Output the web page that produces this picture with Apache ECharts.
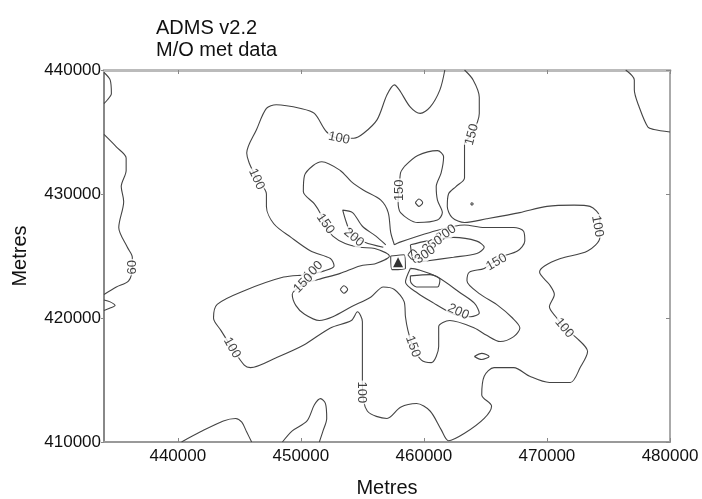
<!DOCTYPE html>
<html>
<head>
<meta charset="utf-8">
<script src="https://cdn.jsdelivr.net/npm/echarts@6/dist/echarts.min.js"></script>
<style>html,body{margin:0;padding:0;background:#fff}#c{width:702px;height:499px}</style>
</head>
<body>
<div id="c"></div>
<script>
// Axis ticks (metres)
const xTicks = [440000, 450000, 460000, 470000, 480000];
const yTicks = [410000, 420000, 430000, 440000];

// Contour polylines, [easting, northing] in metres
const c100Main = [[461700,440000],[461300,438400],[460500,437000],[459700,436500],[458900,437000],[458000,438400],[457600,438800],[457000,438000],[456200,436000],[455100,434900],[454300,434500],[453100,434500],[452100,435000],[451100,436500],[450000,436900],[448000,437200],[447200,436900],[446400,435200],[445600,433300],[445800,432500],[446400,431300],[447200,430000],[447200,429000],[447800,427600],[449200,426500],[450800,425400],[452400,424800],[452700,424200],[451900,423800],[450500,423500],[448600,423300],[445400,422200],[443200,421100],[442900,420000],[443500,419000],[444400,417600],[445400,416200],[445900,416000],[448000,416800],[450200,417800],[452400,419200],[454100,419800],[454600,420500],[455000,419700],[455000,418200],[455000,414600],[455400,412500],[457000,411900],[458100,412800],[459400,413100],[460500,412500],[461400,411000],[462000,410100],[463300,410700],[464900,411900],[465500,412900],[464700,413800],[464900,415300],[465700,416000],[467300,416000],[468600,415300],[470200,414800],[471900,414800],[472700,416000],[473300,417300],[472400,418400],[471400,419200],[470800,420000],[470200,420900],[470600,421900],[470200,422700],[469400,423700],[469800,424200],[471100,424800],[473300,425400],[474300,426500],[474300,428100],[473500,429000],[472200,429100],[470000,429000],[467800,428500],[465100,428000],[463300,427700],[462300,428100],[461900,429000],[462000,430000],[462600,430600],[463300,431300],[463300,433000],[463300,434100],[463900,434800],[464500,436500],[464500,437800],[464000,439200],[463300,440000]];
const c150Main = [[457600,425900],[457300,426900],[457100,428500],[456500,429500],[455100,430300],[454100,431000],[453200,431900],[451700,432600],[451000,432300],[450300,431500],[450200,430200],[451100,429200],[451600,428400],[452000,427400],[452600,426600],[453600,426000],[454800,425700],[456000,425600],[457200,425000],[456100,424400],[454800,424200],[453200,423600],[451400,423100],[450200,422700],[449300,421900],[449600,421000],[450300,420300],[451500,419800],[452600,420100],[454100,420900],[455700,421700],[456700,422500],[457600,422300],[458400,421300],[458500,420100],[458700,419000],[459100,417700],[459800,416600],[460600,416400],[461200,417700],[461200,419300],[462100,419800],[464100,419200],[465100,418600],[466200,418100],[467300,418500],[467800,419200],[467200,420000],[465900,421100],[464600,421900],[463500,423000],[463700,423700],[464900,424000],[466200,424900],[467600,425400],[468200,426200],[468100,427000],[467300,427300],[464900,427300],[463300,427500],[460500,426900],[458000,426100],[457600,425900]];
const c150Finger = [[458400,432200],[459500,433100],[461100,433500],[461600,433000],[461400,431700],[461000,430600],[461100,429500],[461500,428500],[461100,427900],[459500,427700],[458100,428500],[457900,429500],[458000,430300],[458100,431700],[458400,432200]];
const c200NW = [[456900,425900],[456100,426600],[455000,427400],[454200,428500],[453400,428700],[453700,427700],[454100,426800],[455200,426100],[456700,425700]];
const c200SE = [[458900,424000],[459500,423900],[461100,423300],[463000,422000],[464100,421200],[464500,420400],[463800,420100],[462800,420200],[462200,420400],[460800,421200],[459500,422000],[458500,422900],[458900,424000]];
const c200E = [[458900,425900],[460200,426200],[462400,426500],[464300,426200],[464900,425700],[464300,425200],[462400,424900],[460200,424600],[459300,424500],[458900,425900]];
const c250Box = [[457300,425000],[458400,425100],[458500,424000],[457400,423900],[457300,425000]];
const c250Ring = [[458700,425100],[459100,425500],[459500,425100],[459100,424700],[458700,425100]];
const c250S = [[458900,423400],[460500,423500],[461300,423100],[461100,422500],[459400,422500],[458900,423000],[458900,423400]];
const cRingFinger = [[459300,429300],[459600,429600],[459900,429300],[459600,429000],[459300,429300]];
const cRingSW = [[453200,422300],[453500,422600],[453800,422300],[453500,422000],[453200,422300]];
const cEllipseSE = [[464100,416900],[464700,417150],[465300,416900],[464700,416650],[464100,416900]];
const cDotNE = [[463800,429200],[463900,429300],[464000,429200],[463900,429100],[463800,429200]];
const cEdgeTopLeft = [[434000,439800],[434500,439200],[434600,438100],[434200,437500],[434000,437300]];
const cEdgeLeft = [[434000,434800],[435000,433800],[435800,432900],[435800,431900],[435400,430600],[435600,429400],[435200,427300],[435900,425700],[436300,424900],[436300,424100],[436000,423000],[435000,422500],[434000,421900]];
const cEdgeLeftBump = [[434000,421450],[434500,421300],[434900,421000],[434500,420800],[434000,420600]];
const cEdgeTopRight = [[476400,440000],[477100,439200],[477100,438400],[477500,437000],[478200,435400],[478700,435200],[480000,435000]];
const cEdgeBottom1 = [[440300,410000],[441800,410800],[443700,411700],[444700,411900],[445200,411600],[445600,410800],[446000,410000]];
const cEdgeBottom2 = [[448500,410000],[449300,410900],[450500,411700],[451100,413000],[451600,413500],[452000,413100],[452100,411900],[451800,410900],[451500,410000]];

// Contour labels: [easting, northing, text, rotation in degrees]
const contourLabels = [
  [453100,434500,'100',-12],
  [446400,431200,'100',-65],
  [463900,434800,'150',75],
  [458000,430300,'150',90],
  [452000,427600,'150',-55],
  [454300,426500,'200',-40],
  [474100,427400,'100',-80],
  [451000,423800,'100',45],
  [450200,422800,'150',45],
  [465900,424500,'150',30],
  [462800,420500,'200',-25],
  [459100,417700,'150',-70],
  [454900,414000,'100',-90],
  [471400,419200,'100',-50],
  [444400,417600,'100',-60],
  [436300,424100,'60',90],
  [461800,426800,'200',35],
  [460700,425900,'250',35],
  [460100,425100,'300',35]
];
// Source location
const source = [[457900,424500]];

const contours = [c100Main,c150Main,c150Finger,c200NW,c200SE,c200E,c250Box,c250Ring,c250S,cRingFinger,cRingSW,cEllipseSE,cDotNE,cEdgeTopLeft,cEdgeLeft,cEdgeLeftBump,cEdgeTopRight,cEdgeBottom1,cEdgeBottom2];

const FONT = 'Liberation Sans, Arial, sans-serif';
const series = contours.map(c => ({
  type: 'line', data: c, showSymbol: false, smooth: 0.3, silent: true,
  lineStyle: { color: '#444', width: 1.1 }, z: 2
}));
series.push({
  type: 'scatter', symbolSize: 1, z: 5, silent: true,
  itemStyle: { color: 'rgba(0,0,0,0)' },
  data: contourLabels.map(l => ({
    value: [l[0], l[1]],
    label: { show: true, position: 'inside', formatter: l[2], rotate: l[3],
      color: '#111', fontSize: 13, fontFamily: FONT, backgroundColor: '#fff', padding: [0, 1] }
  }))
});
series.push({
  type: 'scatter', symbol: 'triangle', symbolSize: 10, z: 6, silent: true,
  itemStyle: { color: '#000' }, data: source
});

const plain = v => String(v);
const chart = echarts.init(document.getElementById('c'));
chart.setOption({
  animation: false,
  backgroundColor: '#fff',
  title: { text: 'ADMS v2.2\nM/O met data', left: 151, top: 12,
    textStyle: { fontSize: 20, fontWeight: 'normal', color: '#111', lineHeight: 22, fontFamily: FONT } },
  grid: { left: 104, right: 32, top: 70, bottom: 57, containLabel: false, outerBoundsMode: 'none' },
  xAxis: [{
    type: 'value', min: 434000, max: 480000, position: 'bottom',
    name: 'Metres', nameLocation: 'middle', nameGap: 36,
    nameTextStyle: { fontSize: 20, color: '#111', fontFamily: FONT },
    axisLine: { show: true, lineStyle: { color: '#999', width: 2 } },
    axisTick: { show: true, inside: true, length: 4, customValues: xTicks, lineStyle: { color: '#888' } },
    axisLabel: { customValues: xTicks, formatter: plain, color: '#111', fontSize: 17, fontFamily: FONT, margin: 6 },
    splitLine: { show: false }
  }, {
    type: 'value', min: 434000, max: 480000, position: 'top',
    axisLine: { show: true, onZero: false, lineStyle: { color: '#bbb', width: 3 } },
    axisTick: { show: true, inside: true, length: 4, customValues: xTicks, lineStyle: { color: '#888' } },
    axisLabel: { show: false }, splitLine: { show: false }
  }],
  yAxis: [{
    type: 'value', min: 410000, max: 440000, interval: 10000, position: 'left',
    name: 'Metres', nameLocation: 'middle', nameGap: 74,
    nameTextStyle: { fontSize: 20, color: '#111', fontFamily: FONT },
    axisLine: { show: true, lineStyle: { color: '#888', width: 2 } },
    axisTick: { show: true, inside: false, length: 3, lineStyle: { color: '#888' } },
    axisLabel: { formatter: plain, color: '#111', fontSize: 17, fontFamily: FONT, margin: 3 },
    splitLine: { show: false }
  }, {
    type: 'value', min: 410000, max: 440000, interval: 10000, position: 'right',
    axisLine: { show: true, onZero: false, lineStyle: { color: '#aaa', width: 2 } },
    axisTick: { show: true, inside: true, length: 4, lineStyle: { color: '#888' } },
    axisLabel: { show: false }, splitLine: { show: false }
  }],
  series: series
});
</script>
</body>
</html>
